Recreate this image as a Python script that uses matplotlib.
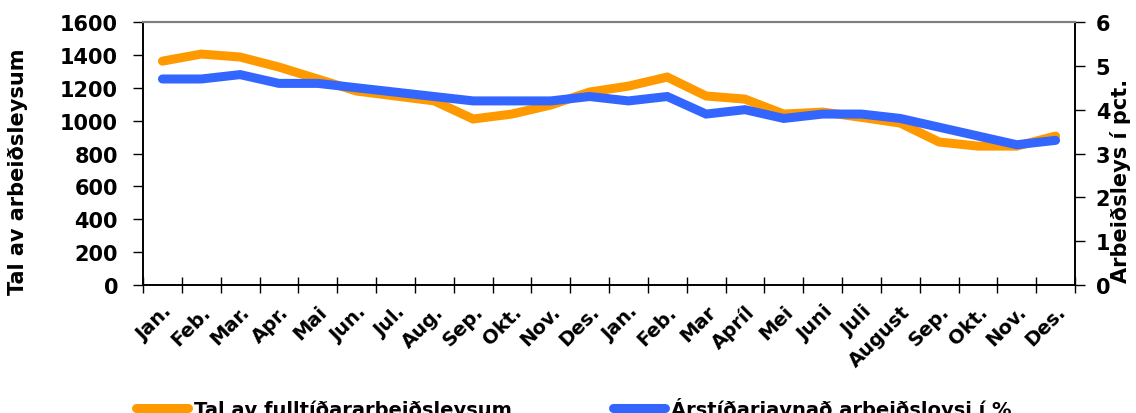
import numpy as np
import matplotlib
matplotlib.use("Agg")
import matplotlib.pyplot as plt

months = ['Jan.', 'Feb.', 'Mar.', 'Apr.', 'Mai', 'Jun.', 'Jul.', 'Aug.', 'Sep.', 'Okt.', 'Nov.', 'Des.',
          'Jan.', 'Feb.', 'Mar', 'Apríl', 'Mei', 'Juni', 'Juli', 'August', 'Sep.', 'Okt.', 'Nov.', 'Des.']

fulltid = [1362, 1405, 1387, 1326, 1253, 1180, 1150, 1120, 1010, 1040, 1095, 1174,
           1210, 1265, 1150, 1131, 1040, 1052, 1020, 985, 870, 845, 845, 906]

arstid_pct = [4.7, 4.7, 4.8, 4.6, 4.6, 4.5, 4.4, 4.3, 4.2, 4.2, 4.2, 4.3,
              4.2, 4.3, 3.9, 4.0, 3.8, 3.9, 3.9, 3.8, 3.6, 3.4, 3.2, 3.3]

ORANGE = '#FF9900'
BLUE = '#3366FF'

plt.rcParams['font.family'] = 'DejaVu Sans'
plt.rcParams['font.weight'] = 'bold'

fig = plt.figure(figsize=(11.36, 4.14), dpi=100)
ax = fig.add_axes([0.1259, 0.3092, 0.8204, 0.6352])
ax2 = ax.twinx()

x = np.arange(len(months)) + 0.5
l1, = ax.plot(x, fulltid, color=ORANGE, lw=6.5, solid_capstyle='round', solid_joinstyle='miter')
l2, = ax2.plot(x, arstid_pct, color=BLUE, lw=6.5, solid_capstyle='round', solid_joinstyle='miter')

ax.set_xlim(0, len(months))
ax.set_ylim(0, 1600)
ax2.set_ylim(0, 6)
ax.set_yticks(range(0, 1601, 200))
ax2.set_yticks(range(0, 7))

# boundaries get ticks, centres get labels
ax.set_xticks(np.arange(len(months) + 1))
ax.set_xticklabels([])
ax.set_xticks(x, minor=True)
ax.set_xticklabels(months, minor=True, rotation=45, ha='right', va='top',
                   rotation_mode='anchor', fontsize=14, fontweight='bold')
ax.tick_params(axis='x', which='major', direction='inout', length=12, width=1)
ax.tick_params(axis='x', which='minor', length=0, pad=12)
ax.tick_params(axis='y', direction='out', length=7, width=1, labelsize=15, pad=11)
ax2.tick_params(axis='y', direction='out', length=7, width=1, labelsize=15, pad=8)
for lab in ax.get_yticklabels() + ax2.get_yticklabels():
    lab.set_fontweight('bold')

for a in (ax, ax2):
    a.spines['top'].set_color('#808080')
    a.spines['top'].set_linewidth(1.5)
    for s in ('left', 'right', 'bottom'):
        a.spines[s].set_color('black')
        a.spines[s].set_linewidth(1.2)

ax.set_ylabel('Tal av arbeiðsleysum', fontsize=15, fontweight='bold')
ax.yaxis.set_label_coords(-0.1234, 0.433)
ax2.set_ylabel('Arbeiðsleys í pct.', fontsize=15, fontweight='bold')
ax2.yaxis.set_label_coords(1.0376, 0.40)

fig.legend([l1, l2], ['Tal av fulltíðararbeiðsleysum', 'Árstíðarjavnað arbeiðsloysi í %'],
           loc='center', bbox_to_anchor=(0.505, 0.012), ncol=2, frameon=False,
           prop={'size': 14, 'weight': 'bold'}, handlelength=2.7, columnspacing=5.2,
           handletextpad=0.3)

fig.savefig('out.png', dpi=100)
